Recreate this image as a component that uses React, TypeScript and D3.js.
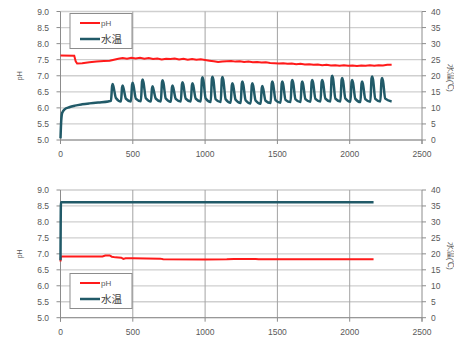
import React from 'react';
import * as d3 from 'd3';

// ---- data ----
const xTicks = [0, 500, 1000, 1500, 2000, 2500];
const phTicks = [5.0, 5.5, 6.0, 6.5, 7.0, 7.5, 8.0, 8.5, 9.0];
const tempTicks = [0, 5, 10, 15, 20, 25, 30, 35, 40];

// top chart pH
const phTop: [number, number][] = [
  [0, 7.63], [95, 7.62], [105, 7.45], [115, 7.38], [150, 7.39], [200, 7.42], [250, 7.44],
  [300, 7.46], [340, 7.47], [370, 7.5], [400, 7.53], [430, 7.55], [460, 7.53], [490, 7.56],
  [520, 7.54], [550, 7.56], [580, 7.53], [610, 7.55], [640, 7.52], [670, 7.54], [700, 7.51],
  [730, 7.53], [760, 7.52], [790, 7.54], [820, 7.51], [850, 7.53], [880, 7.5], [910, 7.52],
  [940, 7.5], [970, 7.51], [1000, 7.49], [1030, 7.47], [1060, 7.45], [1090, 7.43], [1120, 7.44],
  [1150, 7.45], [1180, 7.46], [1210, 7.44], [1240, 7.45], [1270, 7.43], [1300, 7.44], [1330, 7.42],
  [1360, 7.43], [1390, 7.41], [1420, 7.42], [1450, 7.4], [1480, 7.39], [1510, 7.38], [1540, 7.39],
  [1570, 7.37], [1600, 7.38], [1630, 7.36], [1660, 7.37], [1690, 7.35], [1720, 7.36], [1750, 7.34],
  [1780, 7.35], [1810, 7.33], [1840, 7.34], [1870, 7.32], [1900, 7.33], [1930, 7.31], [1960, 7.33],
  [1990, 7.31], [2020, 7.32], [2050, 7.3], [2080, 7.32], [2110, 7.31], [2140, 7.33], [2170, 7.31],
  [2200, 7.33], [2230, 7.32], [2260, 7.34], [2290, 7.34],
];

// top chart water temperature: warm-up, then daily peaks
const tempStart: [number, number][] = [
  [0, 0.5], [5, 6], [12, 8.5], [30, 9.6], [60, 10.2], [100, 10.7], [150, 11.1],
  [200, 11.4], [260, 11.7], [330, 12.0],
];
const peakX = [361, 430, 499, 568, 637, 706, 775, 844, 913, 982, 1051, 1120, 1189, 1258,
  1327, 1396, 1465, 1534, 1603, 1672, 1741, 1810, 1879, 1948, 2017, 2086, 2155, 2224];
const peakT = [17.4, 17.0, 17.8, 18.8, 16.7, 18.6, 17.0, 18.0, 17.7, 19.5, 19.7, 19.6, 17.7, 18.2,
  17.7, 16.8, 18.2, 18.2, 18.7, 18.2, 18.7, 18.7, 20.0, 19.3, 18.7, 18.2, 19.8, 19.3];
const troughT = [12.2, 12.0, 12.0, 12.1, 12.0, 12.0, 11.9, 12.0, 12.0, 12.0, 11.8, 11.8, 11.6, 11.5,
  11.4, 11.3, 11.5, 11.6, 11.8, 11.8, 11.9, 12.0, 12.0, 12.0, 11.9, 11.8, 11.9, 12.0];
const tempEnd: [number, number][] = [[2290, 12.0]];

// bottom chart
const phBottom: [number, number][] = [
  [0, 6.76], [3, 6.92], [290, 6.92], [310, 6.95], [340, 6.95], [355, 6.91], [380, 6.89],
  [420, 6.88], [435, 6.84], [450, 6.86], [500, 6.86], [690, 6.85], [710, 6.83], [1000, 6.82],
  [1150, 6.83], [1200, 6.84], [1350, 6.84], [1370, 6.83], [1650, 6.83], [2165, 6.83],
];
const tempBottom: [number, number][] = [[0, 18], [3, 36.2], [2165, 36.2]];

const RED = '#ff1a1a';
const TEAL = '#215a68';
const TXT = '#595959';
const FONT = '"Liberation Sans", Arial, sans-serif';

function buildTempTop(): [number, number][] {
  const pts: [number, number][] = [...tempStart];
  peakX.forEach((p, i) => {
    const pk = peakT[i], tr = troughT[i];
    pts.push([p - 12, tr]);
    pts.push([p - 4, pk - 0.6]);
    pts.push([p, pk]);
    pts.push([p + 6, pk - 0.9]);
    pts.push([p + 22, tr + 0.9]);
  });
  return pts.concat(tempEnd);
}

type ChartProps = {
  top: number;
  bottom: number;
  ph: [number, number][];
  temp: [number, number][];
  legendY: number;
};

const Chart = ({ top, bottom, ph, temp, legendY }: ChartProps) => {
  const left = 60.5, right = 422;
  const x = d3.scaleLinear().domain([0, 2500]).range([left, right]);
  const y = d3.scaleLinear().domain([5, 9]).range([bottom, top]);
  const yT = d3.scaleLinear().domain([0, 40]).range([bottom, top]);
  const phLine = d3.line<[number, number]>().x(d => x(d[0])).y(d => y(d[1]));
  const tLine = d3.line<[number, number]>().x(d => x(d[0])).y(d => yT(d[1])).curve(d3.curveMonotoneX);

  return (
    <g fontFamily={FONT}>
      {phTicks.map(t => (
        <line key={'h' + t} x1={left} x2={right} y1={y(t)} y2={y(t)} stroke="#cfcfcf" strokeWidth={1.3} />
      ))}
      {xTicks.slice(1, -1).map(t => (
        <line key={'v' + t} x1={x(t)} x2={x(t)} y1={top} y2={bottom} stroke="#a3a3a3" strokeWidth={1} />
      ))}
      {/* axes */}
      <line x1={left} x2={left} y1={top} y2={bottom + 4} stroke="#8c8c8c" />
      <line x1={right} x2={right} y1={top} y2={bottom + 4} stroke="#8c8c8c" />
      <line x1={left} x2={right} y1={bottom} y2={bottom} stroke="#8c8c8c" />
      {phTicks.map(t => (
        <g key={'l' + t}>
          <line x1={left - 4} x2={left} y1={y(t)} y2={y(t)} stroke="#8c8c8c" />
          <text x={49} y={y(t) + 3} textAnchor="end" fontSize={8.5} fill={TXT}>{t.toFixed(1)}</text>
        </g>
      ))}
      {tempTicks.map(t => (
        <g key={'r' + t}>
          <line x1={right} x2={right + 4} y1={yT(t)} y2={yT(t)} stroke="#8c8c8c" />
          <text x={431} y={yT(t) + 3} fontSize={8.5} fill={TXT}>{t}</text>
        </g>
      ))}
      {xTicks.map(t => (
        <g key={'x' + t}>
          <line x1={x(t)} x2={x(t)} y1={bottom} y2={bottom + 4} stroke="#8c8c8c" />
          <text x={x(t)} y={bottom + 17} textAnchor="middle" fontSize={8.5} fill={TXT}>{t}</text>
        </g>
      ))}
      <text transform={`translate(22,${(top + bottom) / 2}) rotate(-90)`} textAnchor="middle" fontSize={7} fill={TXT}>pH</text>
      <text transform={`translate(448,${(top + bottom) / 2 + 2}) rotate(90)`} textAnchor="middle" fontSize={7.5} fill={TXT}>水温(℃)</text>
      {/* series */}
      <path d={phLine(ph) || ''} fill="none" stroke={RED} strokeWidth={2} />
      <path d={tLine(temp) || ''} fill="none" stroke={TEAL} strokeWidth={2.5} strokeLinejoin="round" />
      {/* legend */}
      <rect x={70} y={legendY} width={62} height={35} fill="#fff" stroke="#8c8c8c" strokeWidth={1} />
      <line x1={80} x2={100} y1={legendY + 9.5} y2={legendY + 9.5} stroke={RED} strokeWidth={2} />
      <text x={101} y={legendY + 12.5} fontSize={8} fill={TXT}>pH</text>
      <line x1={80} x2={100} y1={legendY + 25.5} y2={legendY + 25.5} stroke={TEAL} strokeWidth={2.5} />
      <text x={101} y={legendY + 29.5} fontSize={10.5} fill="#404040" fontFamily='"Noto Sans CJK JP", sans-serif'>水温</text>
    </g>
  );
};

export default function App() {
  const tempTop = buildTempTop();
  return (
    <svg width={454} height={338} style={{ position: 'absolute', left: 0, top: 0, background: '#fff' }}>
      <rect width={454} height={338} fill="#fff" />
      <Chart top={11.5} bottom={140} ph={phTop} temp={tempTop} legendY={13.5} />
      <Chart top={190} bottom={317.7} ph={phBottom} temp={tempBottom} legendY={273.5} />
    </svg>
  );
}
